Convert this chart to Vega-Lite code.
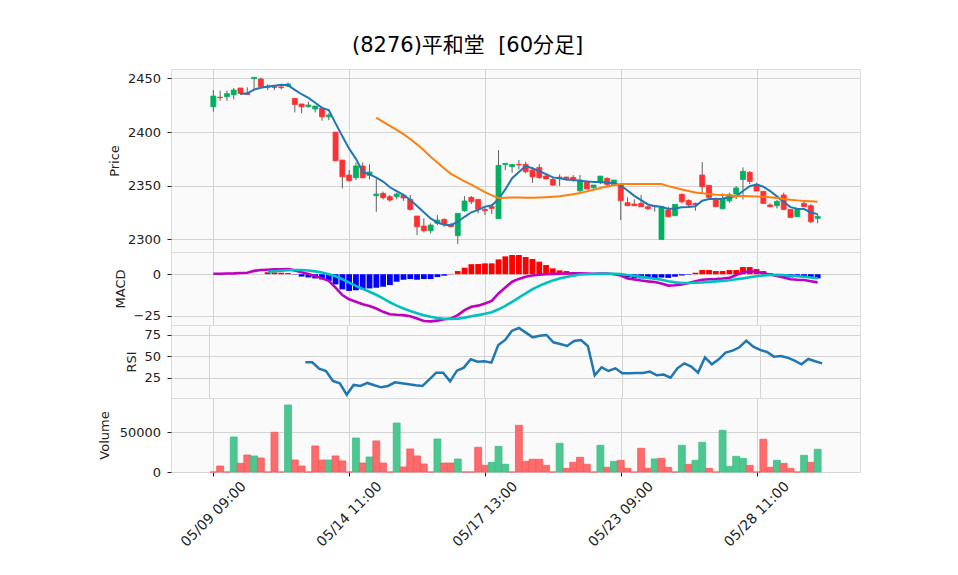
{
"$schema":"https://vega.github.io/schema/vega-lite/v6.json",
"autosize":{"type":"pad"},
"padding":{"left":97,"top":34,"right":96,"bottom":25},
"background":"white",
"title":{"text":"(8276)平和堂\u00a0 [60分足]","anchor":"start","frame":"group","dx":181,"offset":13,"font":"DejaVu Sans, Noto Sans CJK JP","fontSize":21,"fontWeight":"normal","color":"#000000"},
"datasets":{"d":[
{"i":0,"o":2423.5,"h":2439.1,"l":2418.9,"c":2433.5,"v":0,"vd":"d","m":0.3},
{"i":1,"o":2432.4,"h":2438.5,"l":2429,"c":2432,"v":7560,"vd":"d","m":0.3},
{"i":2,"o":2432.9,"h":2438.5,"l":2429,"c":2435.7,"v":0,"vd":"d","m":0.4},
{"i":3,"o":2434.7,"h":2441,"l":2430.4,"c":2439.1,"v":44100,"vd":"u","m":0.5},
{"i":4,"o":2441,"h":2441,"l":2434.7,"c":2436,"v":10900,"vd":"d","s5":2435.5,"m":0.7},
{"i":5,"o":2436,"h":2441.6,"l":2434.7,"c":2435,"v":21400,"vd":"d","s5":2436,"m":0.9},
{"i":6,"o":2449.7,"h":2450.9,"l":2439.7,"c":2450.9,"v":20200,"vd":"u","s5":2439.5,"m":2.0},
{"i":7,"o":2449.3,"h":2450.9,"l":2442.2,"c":2442.2,"v":17600,"vd":"d","s5":2441.3,"m":2.5},
{"i":8,"o":2442.5,"h":2444.4,"l":2439.1,"c":2441.6,"v":0,"vd":"d","s5":2442.3,"m":2.7,"s":1.5,"hg":1.2},
{"i":9,"o":2442.2,"h":2443.7,"l":2439.1,"c":2441.6,"v":50000,"vd":"d","s5":2443.2,"m":2.9,"s":1.8,"hg":1.1},
{"i":10,"o":2442,"h":2444.7,"l":2439.7,"c":2441.3,"v":0,"vd":"d","s5":2444,"m":3.0,"s":2.1,"hg":0.9},
{"i":11,"o":2442.8,"h":2446,"l":2442.2,"c":2444.7,"v":84400,"vd":"u","s5":2443.5,"m":3.1,"s":2.4,"hg":0.7},
{"i":12,"o":2431.3,"h":2431.3,"l":2418.3,"c":2425.7,"v":15100,"vd":"d","s5":2439.2,"m":2.3,"s":2.5,"hg":-0.2},
{"i":13,"o":2426.1,"h":2426.1,"l":2417.4,"c":2423.5,"v":7560,"vd":"d","s5":2435.2,"m":1.2,"s":2.5,"hg":-1.4},
{"i":14,"o":2423.5,"h":2428.2,"l":2423,"c":2425.1,"v":0,"vd":"d","s5":2431.8,"m":0.2,"s":2.2,"hg":-1.9,"r":43.2},
{"i":15,"o":2421.4,"h":2424.2,"l":2418.3,"c":2424.2,"v":32800,"vd":"d","s5":2427.3,"m":-1.0,"s":1.7,"hg":-2.5,"r":43.2},
{"i":16,"o":2422,"h":2423.5,"l":2410.5,"c":2414.2,"v":15100,"vd":"d","s5":2422.5,"m":-2.5,"s":1.0,"hg":-3.1,"r":35.8},
{"i":17,"o":2414.2,"h":2417.4,"l":2411.1,"c":2415.8,"v":15100,"vd":"u","s5":2420.5,"m":-4.0,"s":0.0,"hg":-4.1,"r":33.1},
{"i":18,"o":2399.9,"h":2400,"l":2373,"c":2373.2,"v":20200,"vd":"d","s5":2408,"m":-8.0,"s":-1.2,"hg":-6.1,"r":21.5},
{"i":19,"o":2373.8,"h":2374,"l":2347.5,"c":2358.3,"v":13900,"vd":"d","s5":2396,"m":-12.5,"s":-3.0,"hg":-9.1,"r":18.8},
{"i":20,"o":2359.9,"h":2364.5,"l":2354,"c":2354.6,"v":0,"vd":"d","s5":2384.5,"m":-15.0,"s":-5.0,"hg":-10.0,"r":5.6},
{"i":21,"o":2357.4,"h":2371.4,"l":2355.2,"c":2368.3,"v":42800,"vd":"u","s5":2375,"m":-16.5,"s":-7.0,"hg":-9.6,"r":16.9},
{"i":22,"o":2368.3,"h":2371.4,"l":2356.8,"c":2357.4,"v":11300,"vd":"d","s5":2362.8,"m":-18.0,"s":-8.8,"hg":-9.1,"r":15.7},
{"i":23,"o":2359.6,"h":2369.8,"l":2355.8,"c":2362.7,"v":18900,"vd":"u","s5":2360.5,"m":-19.0,"s":-10.5,"hg":-8.5,"r":19.2},
{"i":24,"o":2340.6,"h":2356.1,"l":2325.7,"c":2342.2,"v":39100,"vd":"d","s5":2357.5,"s25":2413.3,"m":-20.5,"s":-12.3,"hg":-8.1,"r":16.5},
{"i":25,"o":2342.8,"h":2344.4,"l":2337.2,"c":2338.8,"v":11300,"vd":"d","s5":2353.8,"s25":2409.5,"m":-22.5,"s":-14.5,"hg":-7.5,"r":14.1},
{"i":26,"o":2339.7,"h":2341.3,"l":2335,"c":2336.6,"v":0,"vd":"d","s5":2348.5,"s25":2405.7,"m":-24.0,"s":-16.8,"hg":-6.5,"r":15.7},
{"i":27,"o":2339.7,"h":2343.4,"l":2337.2,"c":2342.2,"v":61700,"vd":"u","s5":2345,"s25":2402,"m":-24.3,"s":-18.8,"hg":-4.5,"r":19.9},
{"i":28,"o":2341,"h":2341.6,"l":2335.9,"c":2338.5,"v":6300,"vd":"d","s5":2341.5,"s25":2398,"m":-24.5,"s":-20.5,"hg":-3.3,"r":18.8},
{"i":29,"o":2337.2,"h":2341.3,"l":2326.7,"c":2327.9,"v":29000,"vd":"d","s5":2336.6,"s25":2393.5,"m":-25.2,"s":-22.0,"hg":-2.9,"r":17.6},
{"i":30,"o":2321.7,"h":2321.7,"l":2304,"c":2311.7,"v":20200,"vd":"d","s5":2331,"s25":2388.5,"m":-26.5,"s":-23.3,"hg":-3.3,"r":16.5},
{"i":31,"o":2312.4,"h":2319.5,"l":2306.5,"c":2308,"v":10100,"vd":"d","s5":2325.2,"s25":2383,"m":-28.0,"s":-24.6,"hg":-2.9,"r":15.7},
{"i":32,"o":2308,"h":2314.9,"l":2305.5,"c":2313.3,"v":0,"vd":"d","s5":2319.5,"s25":2377,"m":-28.2,"s":-25.5,"hg":-2.9,"r":23.4},
{"i":33,"o":2314.9,"h":2322.6,"l":2313.3,"c":2317.9,"v":41600,"vd":"u","s5":2315.7,"s25":2371.5,"m":-27.8,"s":-26.2,"hg":-1.7,"r":31.2},
{"i":34,"o":2318.6,"h":2319.5,"l":2311.7,"c":2314.2,"v":11300,"vd":"d","s5":2313.5,"s25":2366,"m":-27.0,"s":-26.7,"hg":-0.9,"r":31.2},
{"i":35,"o":2313.3,"h":2315.5,"l":2311.1,"c":2311.8,"v":11300,"vd":"d","s5":2313.2,"s25":2361,"m":-26.5,"s":-26.8,"hg":0.2,"r":21.1},
{"i":36,"o":2303.4,"h":2324.2,"l":2295.6,"c":2324.2,"v":16400,"vd":"u","s5":2316.5,"s25":2357.5,"m":-24.5,"s":-26.6,"hg":1.9,"r":33.5},
{"i":37,"o":2326.7,"h":2340.3,"l":2325.7,"c":2335.7,"v":0,"vd":"d","s5":2321,"s25":2354,"m":-21.5,"s":-26.0,"hg":3.9,"r":37},
{"i":38,"o":2339.1,"h":2340.3,"l":2332.9,"c":2335,"v":0,"vd":"d","s5":2325.2,"s25":2351,"m":-19.5,"s":-25.2,"hg":6.0,"r":46.7},
{"i":39,"o":2337.2,"h":2337.2,"l":2324.2,"c":2327.9,"v":31100,"vd":"d","s5":2327.5,"s25":2347.5,"m":-18.8,"s":-24.5,"hg":6.1,"r":44},
{"i":40,"o":2327.9,"h":2330.4,"l":2322.6,"c":2326.7,"v":8400,"vd":"d","s5":2330.5,"s25":2344,"m":-17.5,"s":-23.7,"hg":6.5,"r":44.4},
{"i":41,"o":2330.4,"h":2332.9,"l":2323.6,"c":2328.8,"v":12200,"vd":"u","s5":2331.5,"s25":2341,"m":-16.0,"s":-22.8,"hg":6.5,"r":42.8},
{"i":42,"o":2319.2,"h":2383.2,"l":2319.2,"c":2368.9,"v":32300,"vd":"u","s5":2337.6,"s25":2338.5,"m":-11.5,"s":-21.0,"hg":8.9,"r":63.4},
{"i":43,"o":2369.6,"h":2370.8,"l":2364.5,"c":2370.8,"v":9700,"vd":"u","s5":2346.5,"s25":2338.8,"m":-8.0,"s":-19.0,"hg":10.7,"r":69.2},
{"i":44,"o":2367.7,"h":2369.8,"l":2362,"c":2369.8,"v":0,"vd":"d","s5":2357,"s25":2339,"m":-4.5,"s":-16.5,"hg":11.5,"r":80},
{"i":45,"o":2369.8,"h":2373.9,"l":2365.2,"c":2369.4,"v":58800,"vd":"d","s5":2362.7,"s25":2339,"m":-2.8,"s":-14.0,"hg":11.5,"r":83.1},
{"i":46,"o":2369.8,"h":2372.3,"l":2361.4,"c":2363,"v":13400,"vd":"d","s5":2368.3,"s25":2338.8,"m":-1.5,"s":-11.5,"hg":10.3,"r":77.7},
{"i":47,"o":2364.5,"h":2367,"l":2352.7,"c":2358.3,"v":16000,"vd":"d","s5":2366.2,"s25":2338.8,"m":-0.8,"s":-9.0,"hg":9.1,"r":72.3},
{"i":48,"o":2367,"h":2370.1,"l":2356.5,"c":2357.4,"v":16000,"vd":"d","s5":2363.6,"s25":2339,"m":-0.3,"s":-7.0,"hg":7.5,"r":74.2},
{"i":49,"o":2359,"h":2361.4,"l":2356.2,"c":2356.2,"v":8400,"vd":"d","s5":2360.8,"s25":2339.3,"m":0.0,"s":-5.3,"hg":5.5,"r":75},
{"i":50,"o":2355.8,"h":2358.3,"l":2349.7,"c":2350.6,"v":0,"vd":"d","s5":2357.7,"s25":2339.7,"m":0.2,"s":-3.7,"hg":3.5,"r":66.5},
{"i":51,"o":2358,"h":2360.5,"l":2349.7,"c":2357.4,"v":36100,"vd":"u","s5":2356.8,"s25":2340.2,"m":0.3,"s":-2.5,"hg":2.3,"r":64.5},
{"i":52,"o":2358,"h":2358.3,"l":2354.6,"c":2356.8,"v":4600,"vd":"d","s5":2355.8,"s25":2341,"m":0.4,"s":-1.6,"hg":1.9,"r":62.2},
{"i":53,"o":2357.7,"h":2359.9,"l":2353.7,"c":2355.9,"v":12200,"vd":"d","s5":2355.2,"s25":2342,"m":0.5,"s":-0.9,"hg":1.1,"r":68},
{"i":54,"o":2345.3,"h":2359.9,"l":2342.8,"c":2355.2,"v":18500,"vd":"d","s5":2354.6,"s25":2343.2,"m":0.5,"s":-0.2,"hg":0.7,"r":69.2},
{"i":55,"o":2353.7,"h":2354.6,"l":2346.9,"c":2346.9,"v":9700,"vd":"d","s5":2354,"s25":2344.7,"m":0.4,"s":0.0,"hg":0.4,"r":62.2},
{"i":56,"o":2348.1,"h":2350.6,"l":2347.2,"c":2350.6,"v":0,"vd":"d","s5":2353.4,"s25":2346.2,"m":0.3,"s":0.1,"hg":0.2,"r":28.1},
{"i":57,"o":2352.7,"h":2358.9,"l":2351.5,"c":2358.9,"v":33600,"vd":"u","s5":2353.4,"s25":2347.8,"m":0.4,"s":0.2,"hg":0.2,"r":37.4},
{"i":58,"o":2356.8,"h":2357.7,"l":2349.7,"c":2351.2,"v":5900,"vd":"d","s5":2352.7,"s25":2349.2,"m":0.4,"s":0.3,"hg":0.1,"r":33.1},
{"i":59,"o":2350.6,"h":2355.2,"l":2349.7,"c":2355.2,"v":13400,"vd":"u","s5":2352.5,"s25":2350.5,"m":0.0,"s":0.3,"hg":-0.3,"r":36.2},
{"i":60,"o":2350.6,"h":2350.6,"l":2317.9,"c":2336,"v":14700,"vd":"d","s5":2350,"s25":2351.5,"m":-0.8,"s":0.1,"hg":-0.9,"r":30.4},
{"i":61,"o":2334.1,"h":2339.1,"l":2331.3,"c":2331.3,"v":4600,"vd":"d","s5":2345.5,"s25":2351.5,"m":-2.5,"s":-0.5,"hg":-1.8,"r":30.4},
{"i":62,"o":2332.9,"h":2337.2,"l":2331.3,"c":2331.3,"v":0,"vd":"d","s5":2340.5,"s25":2351.5,"m":-3.2,"s":-1.0,"hg":-2.5,"r":30.8},
{"i":63,"o":2333.5,"h":2341.3,"l":2330.4,"c":2330.4,"v":29800,"vd":"d","s5":2336.5,"s25":2351.5,"m":-3.8,"s":-1.6,"hg":-2.5,"r":30.8},
{"i":64,"o":2330.4,"h":2330.4,"l":2327.3,"c":2328.5,"v":4600,"vd":"d","s5":2332.5,"s25":2351.5,"m":-4.3,"s":-2.2,"hg":-2.3,"r":32.4},
{"i":65,"o":2331.6,"h":2331.6,"l":2325.7,"c":2330.8,"v":16400,"vd":"u","s5":2330.8,"s25":2351.6,"m":-4.7,"s":-2.7,"hg":-2.3,"r":28.1},
{"i":66,"o":2299.9,"h":2330.4,"l":2299.9,"c":2330.4,"v":17200,"vd":"d","s5":2330.4,"s25":2351.5,"m":-5.6,"s":-3.3,"hg":-2.0,"r":28.9},
{"i":67,"o":2327.3,"h":2330.4,"l":2321.1,"c":2321.1,"v":5900,"vd":"d","s5":2328.3,"s25":2349.6,"m":-6.8,"s":-4.2,"hg":-2.2,"r":25.4},
{"i":68,"o":2322,"h":2332.6,"l":2322,"c":2332.6,"v":0,"vd":"d","s5":2328.8,"s25":2348,"m":-6.6,"s":-4.9,"hg":-1.5,"r":36.2},
{"i":69,"o":2341.9,"h":2342.8,"l":2333.5,"c":2335,"v":33600,"vd":"u","s5":2329.8,"s25":2346.5,"m":-6.2,"s":-5.3,"hg":-0.8,"r":42},
{"i":70,"o":2336.3,"h":2337.2,"l":2330.4,"c":2332,"v":9700,"vd":"d","s5":2330.2,"s25":2345,"m":-5.3,"s":-5.3,"hg":-0.3,"r":38.2},
{"i":71,"o":2333.5,"h":2334.1,"l":2326.7,"c":2332.3,"v":14700,"vd":"u","s5":2330.8,"s25":2343.7,"m":-4.2,"s":-5.1,"hg":0.9,"r":31.2},
{"i":72,"o":2359.9,"h":2372,"l":2343.7,"c":2349,"v":37400,"vd":"u","s5":2336,"s25":2343,"m":-3.3,"s":-4.9,"hg":2.5,"r":49},
{"i":73,"o":2350.3,"h":2350.3,"l":2339.1,"c":2339.1,"v":4600,"vd":"d","s5":2337.5,"s25":2342.3,"m":-3.0,"s":-4.6,"hg":2.5,"r":40.9},
{"i":74,"o":2337.2,"h":2339.1,"l":2330.4,"c":2330.4,"v":0,"vd":"d","s5":2337.5,"s25":2341.6,"m":-2.9,"s":-4.3,"hg":1.9,"r":46.7},
{"i":75,"o":2328.5,"h":2342.8,"l":2327.9,"c":2338.2,"v":52500,"vd":"u","s5":2337.8,"s25":2341.2,"m":-2.6,"s":-4.0,"hg":1.9,"r":54.5},
{"i":76,"o":2335.9,"h":2343.4,"l":2334.1,"c":2341.6,"v":7100,"vd":"u","s5":2339.5,"s25":2340.8,"m":-2.2,"s":-3.6,"hg":2.5,"r":56.8},
{"i":77,"o":2342.2,"h":2349.7,"l":2337.5,"c":2347.8,"v":19700,"vd":"u","s5":2340,"s25":2340.4,"m":-0.5,"s":-3.0,"hg":2.5,"r":60.7},
{"i":78,"o":2355.8,"h":2367,"l":2337.2,"c":2363.3,"v":17200,"vd":"u","s5":2345,"s25":2340.3,"m":1.0,"s":-2.5,"hg":4.3,"r":68.4},
{"i":79,"o":2362.4,"h":2363.6,"l":2351.5,"c":2354,"v":8400,"vd":"d","s5":2349.5,"s25":2340.1,"m":1.8,"s":-1.8,"hg":4.3,"r":61.4},
{"i":80,"o":2351.2,"h":2352.7,"l":2345,"c":2345,"v":0,"vd":"d","s5":2351,"s25":2339.9,"m":1.5,"s":-1.2,"hg":3.1,"r":57.6},
{"i":81,"o":2344.7,"h":2344.7,"l":2333.5,"c":2333.5,"v":41200,"vd":"d","s5":2349,"s25":2339.7,"m":0.6,"s":-0.8,"hg":1.9,"r":55.2},
{"i":82,"o":2332,"h":2333.5,"l":2329.8,"c":2330.4,"v":5900,"vd":"d","s5":2345,"s25":2339.2,"m":-0.2,"s":-0.5,"hg":0.7,"r":49.8},
{"i":83,"o":2331.3,"h":2336.6,"l":2328.8,"c":2335.4,"v":14700,"vd":"u","s5":2340,"s25":2338.5,"m":-1.0,"s":-0.4,"hg":-0.3,"r":50.6},
{"i":84,"o":2341.3,"h":2343.4,"l":2327.3,"c":2327.9,"v":10900,"vd":"d","s5":2334.8,"s25":2337.5,"m":-2.0,"s":-0.5,"hg":-1.5,"r":48.6},
{"i":85,"o":2327.9,"h":2327.9,"l":2320.4,"c":2320.4,"v":4600,"vd":"d","s5":2330,"s25":2336.8,"m":-3.0,"s":-0.9,"hg":-1.9,"r":45.1},
{"i":86,"o":2321.1,"h":2328.8,"l":2321.1,"c":2327.9,"v":0,"vd":"d","s5":2328.6,"s25":2336.3,"m":-3.3,"s":-1.2,"hg":-1.5,"r":40.9},
{"i":87,"o":2333.5,"h":2335,"l":2330.4,"c":2330.4,"v":21000,"vd":"u","s5":2328.2,"s25":2335.8,"m":-3.5,"s":-1.5,"hg":-1.9,"r":47.1},
{"i":88,"o":2331.3,"h":2332.9,"l":2314.9,"c":2316.4,"v":12200,"vd":"d","s5":2325,"s25":2335.4,"m":-4.2,"s":-2.0,"hg":-1.9,"r":44.4},
{"i":89,"o":2319.5,"h":2323.6,"l":2314.9,"c":2321.4,"v":28600,"vd":"u","s5":2323.5,"s25":2335,"m":-4.9,"s":-2.4,"hg":-2.5,"r":42}
]},
"data":{"name":"d"},
"bounds":"flush",
"spacing":0,
"vconcat":[
{"width":689,"height":183,
 "encoding":{"x":{"field":"i","type":"quantitative","scale":{"domain":[-5.5,94.5],"nice":false,"zero":false},"axis":{"values":[0,20,40,60,80],"labels":false,"ticks":false,"domain":false,"title":null,"grid":true}}},
 "layer":[
  {"mark":{"type":"rule","color":"#606060","strokeWidth":1},
   "encoding":{"y":{"field":"l","type":"quantitative","scale":{"domain":[2288.2,2458.7],"nice":false,"zero":false},"axis":{"values":[2300,2350,2400,2450],"title":"Price","format":"d","titlePadding":6}},"y2":{"field":"h"}}},
  {"mark":{"type":"bar","size":5,"strokeWidth":0.8},
   "encoding":{"y":{"field":"o","type":"quantitative"},"y2":{"field":"c"},
    "fill":{"condition":{"test":"datum.c>=datum.o","value":"#00b060"},"value":"#fe3032"},
    "stroke":{"condition":{"test":"datum.c>=datum.o","value":"#00b060"},"value":"#fe3032"}}},
  {"mark":{"type":"line","color":"#1f77b4","strokeWidth":2},"encoding":{"y":{"field":"s5","type":"quantitative"}}},
  {"mark":{"type":"line","color":"#ff7f0e","strokeWidth":2},"encoding":{"y":{"field":"s25","type":"quantitative"}}}
 ]},
{"width":689,"height":73,
 "encoding":{"x":{"field":"i","type":"quantitative","scale":{"domain":[-5.5,94.5],"nice":false,"zero":false},"axis":{"values":[0,20,40,60,80],"labels":false,"ticks":false,"domain":false,"title":null,"grid":true}}},
 "layer":[
  {"mark":{"type":"bar","size":5.8},
   "encoding":{"y":{"field":"hg","type":"quantitative","scale":{"domain":[-30.4,13.3],"nice":false,"zero":false},"axis":{"values":[-25,0],"title":"MACD","format":"d","titlePadding":6}},"y2":{"datum":0},
    "fill":{"condition":{"test":"datum.hg>=0","value":"#ff0000"},"value":"#0000ff"}}},
  {"mark":{"type":"line","color":"#c000c0","strokeWidth":2.6},"encoding":{"y":{"field":"m","type":"quantitative"}}},
  {"mark":{"type":"line","color":"#00c0c0","strokeWidth":2.6},"encoding":{"y":{"field":"s","type":"quantitative"}}}
 ]},
{"width":689,"height":73,
 "encoding":{"x":{"field":"i","type":"quantitative","scale":{"domain":[-5.5,94.5],"nice":false,"zero":false},"axis":{"values":[0,20,40,60,80],"labels":false,"ticks":false,"domain":false,"title":null,"grid":true}}},
 "layer":[
  {"mark":{"type":"line","color":"#1f77b4","strokeWidth":2.5},
   "encoding":{"y":{"field":"r","type":"quantitative","scale":{"domain":[1.7,86.6],"nice":false,"zero":false},"axis":{"values":[25,50,75],"title":"RSI","format":"d","titlePadding":5}}}}
 ]},
{"width":689,"height":74,
 "encoding":{"x":{"field":"i","type":"quantitative","scale":{"domain":[-5.5,94.5],"nice":false,"zero":false},"axis":{"values":[0,20,40,60,80],"labelExpr":"['05/09 09:00','05/14 11:00','05/17 13:00','05/23 09:00','05/28 11:00'][round(datum.value/20)]","labelAngle":-45,"labelAlign":"center","labelBaseline":"middle","labelFontSize":14,"labelPadding":38,"labelOverlap":false,"labelBound":false,"labelFlush":false,"ticks":true,"tickSize":4,"domain":false,"title":null,"grid":true}}},
 "layer":[
  {"mark":{"type":"bar","size":6.9,"strokeWidth":0.8},
   "encoding":{"y":{"field":"v","type":"quantitative","scale":{"domain":[0,93200],"nice":false},"axis":{"values":[0,50000],"title":"Volume","format":"d","titlePadding":8}},"y2":{"datum":0},
    "fill":{"condition":{"test":"datum.vd=='u'","value":"#4dc790"},"value":"#fd6b6c"},
    "stroke":{"condition":{"test":"datum.vd=='u'","value":"#3fbf85"},"value":"#f55a5b"}}}
 ]}
],
"config":{
 "view":{"fill":"#fafafa","stroke":"#dcdcdc","strokeWidth":1},
 "axis":{"labelFont":"DejaVu Sans","labelFontSize":13,"labelColor":"#222222","titleFont":"DejaVu Sans","titleFontSize":13,"titleFontWeight":"normal","titleColor":"#222222","tickColor":"#222222","tickSize":4,"domain":false,"gridColor":"#d4d4d4","gridWidth":1,"labelPadding":6.5}
}
}
